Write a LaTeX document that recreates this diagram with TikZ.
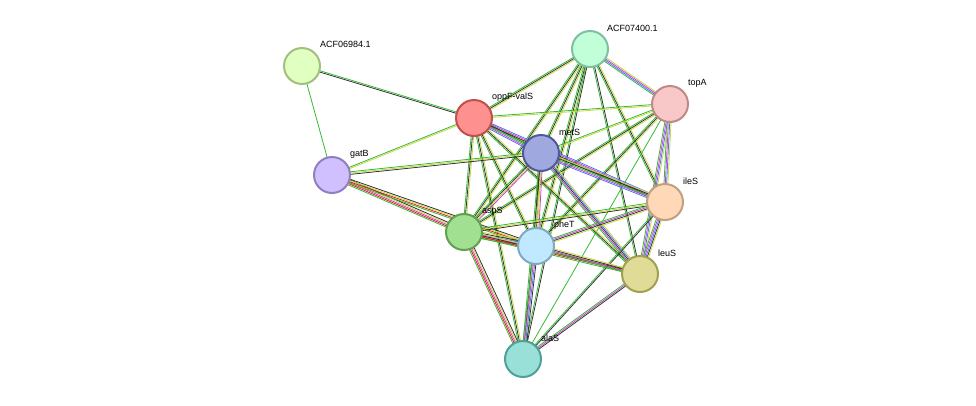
\documentclass[tikz,border=0pt]{standalone}
\usepackage{fontspec}
\setmainfont{Liberation Sans}
\usetikzlibrary{calc,backgrounds}
\definecolor{eg}{HTML}{33BB33}
\definecolor{ek}{HTML}{333333}
\definecolor{ey}{HTML}{C8D840}
\definecolor{er}{HTML}{E02020}
\definecolor{em}{HTML}{D040D0}
\definecolor{eb}{HTML}{5070FF}
\tikzset{prot/.style={circle,draw,line width=2pt,minimum size=36pt,inner sep=0pt},
 lab/.style={anchor=west,font=\fontsize{9pt}{10pt}\selectfont,inner sep=0pt}}
\newcommand{\ed}[3]{%
 \foreach \c [count=\i] in {#3}{\global\let\nn\i}%
 \foreach \c [count=\i] in {#3}{%
  \pgfmathsetmacro{\o}{(\i-(\nn+1)/2)*1.3}%
  \draw[color=\c,line width=0.8pt] ($(#1.center)!\o pt!90:(#2.center)$) -- ($(#2.center)!\o pt!-90:(#1.center)$);}}
\begin{document}
\begin{tikzpicture}[x=1pt,y=-1pt]
\useasboundingbox (0,0) rectangle (976,405);
\node[prot,fill={rgb,255:red,224;green,255;blue,192},draw={rgb,255:red,160;green,192;blue,128}] (A1) at (302,66) {};
\node[prot,fill={rgb,255:red,192;green,255;blue,216},draw={rgb,255:red,128;green,192;blue,160}] (A2) at (590,49) {};
\node[prot,fill={rgb,255:red,248;green,200;blue,200},draw={rgb,255:red,192;green,136;blue,136}] (top) at (670,104) {};
\node[prot,fill={rgb,255:red,255;green,144;blue,144},draw={rgb,255:red,192;green,80;blue,80}] (opp) at (474,118) {};
\node[prot,fill={rgb,255:red,160;green,168;blue,224},draw={rgb,255:red,80;green,88;blue,160}] (met) at (541,153) {};
\node[prot,fill={rgb,255:red,208;green,192;blue,255},draw={rgb,255:red,144;green,128;blue,192}] (gat) at (332,175) {};
\node[prot,fill={rgb,255:red,255;green,216;blue,184},draw={rgb,255:red,192;green,160;blue,128}] (ile) at (665,202) {};
\node[prot,fill={rgb,255:red,160;green,224;blue,144},draw={rgb,255:red,96;green,160;blue,80}] (asp) at (464,232) {};
\node[prot,fill={rgb,255:red,192;green,232;blue,255},draw={rgb,255:red,128;green,168;blue,192}] (phe) at (536,246) {};
\node[prot,fill={rgb,255:red,224;green,220;blue,152},draw={rgb,255:red,160;green,160;blue,80}] (leu) at (640,274) {};
\node[prot,fill={rgb,255:red,152;green,224;blue,216},draw={rgb,255:red,80;green,160;blue,152}] (ala) at (523,359) {};
\node[lab] at (320,44) {ACF06984.1};
\node[lab] at (607,28) {ACF07400.1};
\node[lab] at (688,83) {topA};
\node[lab] at (492,97) {oppF-valS};
\node[lab] at (559,132) {metS};
\node[lab] at (350,154) {gatB};
\node[lab] at (683,181) {ileS};
\node[lab] at (482,211) {aspS};
\node[lab] at (554,225) {pheT};
\node[lab] at (658,253) {leuS};
\node[lab] at (541,338) {alaS};
\begin{pgfonlayer}{background}
\ed{A1}{opp}{ek,eg}
\ed{A1}{gat}{eg}
\ed{A2}{top}{eg,eb,em,ey}
\ed{A2}{opp}{eg,ek,ey}
\ed{A2}{met}{eg,ek,ey}
\ed{A2}{ile}{eg,ek,ey}
\ed{A2}{asp}{eg,ek,ey}
\ed{A2}{phe}{eg,ek,ey}
\ed{A2}{leu}{eg,ek}
\ed{A2}{ala}{eg,ek}
\ed{top}{opp}{eg,ey}
\ed{top}{met}{eg,ey}
\ed{top}{ile}{eg,em,eb,ey}
\ed{top}{asp}{eg,ek,ey}
\ed{top}{phe}{eg,ek,ey}
\ed{top}{leu}{eg,em,eb,ey}
\ed{top}{ala}{eg}
\ed{opp}{met}{eb,em,eg,ek,ey}
\ed{opp}{gat}{eg,ey}
\ed{opp}{ile}{eg,ek,em,eb}
\ed{opp}{asp}{eg,ek,ey}
\ed{opp}{phe}{eg,ek,ey}
\ed{opp}{leu}{eg,ek,ey}
\ed{opp}{ala}{eg,ek,ey}
\ed{met}{gat}{eg,ey,ek}
\ed{met}{ile}{eb,em,eg,ek,ey}
\ed{met}{asp}{eg,ek,ey,em}
\ed{met}{phe}{eg,ek,ey,em}
\ed{met}{leu}{eg,em,ek,eb,ey}
\ed{met}{ala}{eg,ek,ey}
\ed{gat}{asp}{eg,er,em,ey,ek}
\ed{gat}{phe}{eg,er,ey,ek}
\ed{ile}{asp}{eg,ey,ek}
\ed{ile}{phe}{eg,em,ek,ey}
\ed{ile}{leu}{eg,em,eb,ek,ey}
\ed{ile}{ala}{eg,ek}
\ed{asp}{phe}{eg,er,em,eb,ek,ey}
\ed{asp}{leu}{eg,er,ek,ey}
\ed{asp}{ala}{eg,er,em,ey,ek}
\ed{phe}{leu}{eg,em,ek,ey}
\ed{phe}{ala}{eg,em,eb,ek}
\ed{leu}{ala}{eg,em,ek}
\end{pgfonlayer}
\end{tikzpicture}
\end{document}
